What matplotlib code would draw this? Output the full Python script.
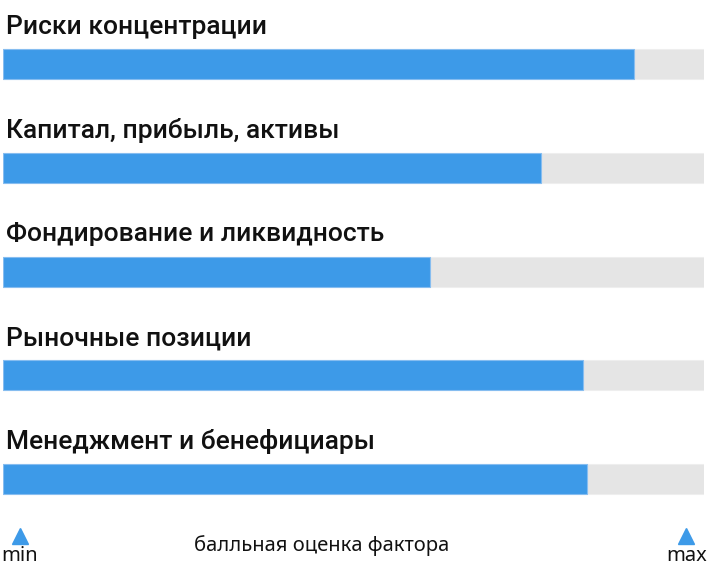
import matplotlib
matplotlib.use("Agg")
import matplotlib.pyplot as plt

categories = ["Риски концентрации", "Капитал, прибыль, активы", "Фондирование и ликвидность",
              "Рыночные позиции", "Менеджмент и бенефициары"]
values = [0.900, 0.767, 0.609, 0.827, 0.833]
max_value = 1.0
axis_title = "балльная оценка фактора"
min_label = "min"
max_label = "max"

BLUE = "#3d9ae8"
GRAY = "#e5e5e5"
W, H = 707, 576
fig = plt.figure(figsize=(W / 100, H / 100), dpi=100)
plt.rcParams['font.family'] = ['Noto Sans', 'DejaVu Sans']

ax = fig.add_axes([3 / W, 0, 701 / W, 1])
ax.set_xlim(0, max_value)
ax.set_ylim(H, 0)
ax.axis('off')

ypos = [64 + 103.75 * i for i in range(len(categories))]
ax.barh(ypos, [max_value] * len(values), height=30, color=GRAY, edgecolor='#eeeeee', linewidth=0.8)
ax.barh(ypos, values, height=30, color=BLUE, edgecolor='#86bdf0', linewidth=0.8)
for y, c in zip(ypos, categories):
    ax.text(0.004, y - 37, c, fontsize=19, fontweight='medium', color='#111111',
            ha='left', va='center', family=['Roboto', 'DejaVu Sans'])

# bottom scale
tri = fig.add_axes([0, 0, 1, 1], facecolor='none')
tri.set_xlim(0, W)
tri.set_ylim(H, 0)
tri.axis('off')
tri.plot([20, 686], [536, 536], linestyle='none', marker='^', markersize=11, color=BLUE)
tri.text(20, 556, min_label, fontsize=14.5, ha='center', va='center', color='#111111')
tri.text(687, 556, max_label, fontsize=14.5, ha='center', va='center', color='#111111')
tri.text(322, 546, axis_title, fontsize=14.5, ha='center', va='center', color='#111111')

fig.savefig("out.png", dpi=100)
